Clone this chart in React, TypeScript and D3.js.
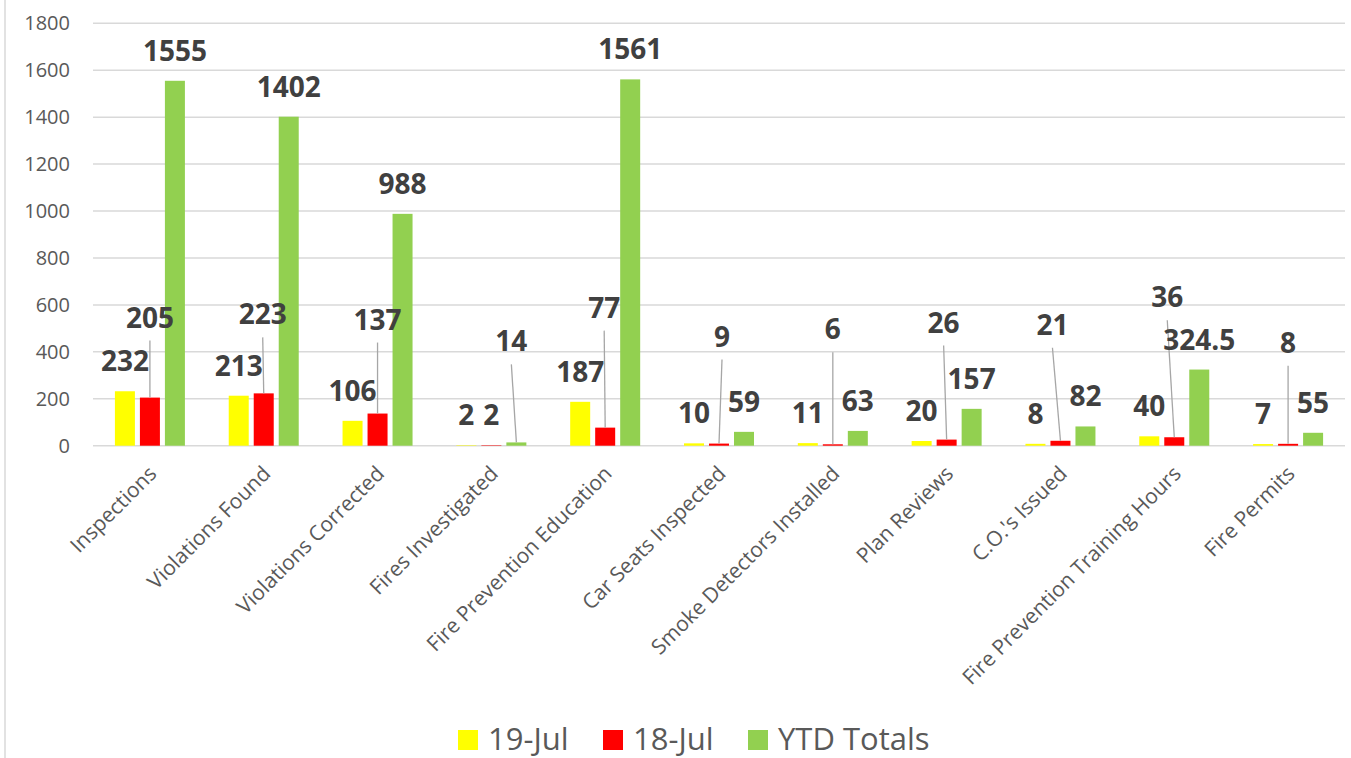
import React, { useEffect, useRef } from 'react';
import * as d3 from 'd3';

const categories = [
  'Inspections',
  'Violations Found',
  'Violations Corrected',
  'Fires Investigated',
  'Fire Prevention Education',
  'Car Seats Inspected',
  'Smoke Detectors Installed',
  'Plan Reviews',
  "C.O.'s Issued",
  'Fire Prevention Training Hours',
  'Fire Permits',
];

const jul19 = [232, 213, 106, 2, 187, 10, 11, 20, 8, 40, 7];
const jul18 = [205, 223, 137, 2, 77, 9, 6, 26, 21, 36, 8];
const ytdTotals = [1555, 1402, 988, 14, 1561, 59, 63, 157, 82, 324.5, 55];

const seriesNames = ['19-Jul', '18-Jul', 'YTD Totals'];
const seriesColors = ['#ffff00', '#ff0000', '#92d050'];

// labels that were dragged away from the bar (series:category -> [dx, dy])
const movedLabels: Record<string, [number, number]> = {
  '1:0': [0, -50],
  '1:1': [-1, -49],
  '1:2': [0, -64],
  '2:3': [-5, -71],
  '1:4': [-1, -90],
  '1:5': [3, -77],
  '1:6': [0, -85],
  '1:7': [-3, -87],
  '1:8': [-8, -86],
  '1:9': [-7, -110],
  '1:10': [0, -71],
};

const W = 1351;
const H = 758;

const App: React.FC = () => {
  const svgRef = useRef<SVGSVGElement>(null);

  useEffect(() => {
    if (!svgRef.current) return;
    const svg = d3.select(svgRef.current);
    svg.selectAll('*').remove();

    const series = [jul19, jul18, ytdTotals];
    const left = 93;
    const right = 1345;

    const x0 = d3.scaleBand<string>().domain(categories).range([left, right]).padding(0);
    const x1 = d3.scaleBand<number>().domain([0, 1, 2]).range([-37.5, 37.5])
      .paddingInner(0.2).paddingOuter(0.1);
    const y = d3.scaleLinear().domain([0, 1800]).range([445.7, 23.3]);

    // chart border on the left
    svg.append('line')
      .attr('x1', 5).attr('x2', 5).attr('y1', 0).attr('y2', H)
      .attr('stroke', '#d9d9d9').attr('stroke-width', 1.5);

    // gridlines + y ticks
    const ticks = y.ticks(9);
    svg.append('g').selectAll('line').data(ticks).join('line')
      .attr('x1', left).attr('x2', right)
      .attr('y1', d => y(d)).attr('y2', d => y(d))
      .attr('stroke', '#d9d9d9').attr('stroke-width', 1.5);

    svg.append('g').selectAll('text').data(ticks).join('text')
      .attr('x', 70).attr('y', d => y(d))
      .attr('dy', '0.35em')
      .attr('text-anchor', 'end')
      .attr('font-family', '"Open Sans", sans-serif')
      .attr('font-size', 20)
      .attr('fill', '#595959')
      .text(d => d);

    // bars
    const cells = categories.flatMap((c, i) =>
      series.map((s, si) => ({ c, i, si, v: s[i] })));

    svg.append('g').selectAll('rect').data(cells).join('rect')
      .attr('x', d => x0(d.c)! + x0.bandwidth() / 2 + x1(d.si)!)
      .attr('width', x1.bandwidth())
      .attr('y', d => y(d.v))
      .attr('height', d => y(0) - y(d.v))
      .attr('fill', d => seriesColors[d.si]);

    const barCx = (d: typeof cells[number]) => x0(d.c)! + x0.bandwidth() / 2 + x1(d.si)! + x1.bandwidth() / 2;

    // leader lines
    const moved = cells.filter(d => movedLabels[`${d.si}:${d.i}`]);
    svg.append('g').selectAll('line').data(moved).join('line')
      .attr('x1', d => barCx(d) + movedLabels[`${d.si}:${d.i}`][0])
      .attr('y1', d => y(d.v) - 20 + movedLabels[`${d.si}:${d.i}`][1] + 13)
      .attr('x2', d => barCx(d))
      .attr('y2', d => y(d.v))
      .attr('stroke', '#a6a6a6').attr('stroke-width', 1.3);

    // data labels
    svg.append('g').selectAll('text').data(cells).join('text')
      .attr('x', d => barCx(d) + (movedLabels[`${d.si}:${d.i}`]?.[0] ?? 0))
      .attr('y', d => y(d.v) - 20 + (movedLabels[`${d.si}:${d.i}`]?.[1] ?? 0))
      .attr('text-anchor', 'middle')
      .attr('font-family', '"Open Sans", sans-serif')
      .attr('font-weight', 700)
      .attr('font-size', 28)
      .attr('fill', '#404040')
      .text(d => d.v);

    // category labels
    svg.append('g').selectAll('text').data(categories).join('text')
      .attr('transform', d => `translate(${x0(d)! + x0.bandwidth() / 2 + 8},475) rotate(-45)`)
      .attr('text-anchor', 'end')
      .attr('font-family', '"Open Sans", sans-serif')
      .attr('font-size', 21)
      .attr('fill', '#595959')
      .text(d => d);

    // legend
    const legendX = [458, 603, 748];
    const legend = svg.append('g').selectAll('g').data(seriesNames).join('g')
      .attr('transform', (_, i) => `translate(${legendX[i]},730)`);
    legend.append('rect')
      .attr('width', 20).attr('height', 20)
      .attr('fill', (_, i) => seriesColors[i]);
    legend.append('text')
      .attr('x', 30).attr('y', 20)
      .attr('font-family', '"Open Sans", sans-serif')
      .attr('font-size', 31)
      .attr('fill', '#595959')
      .text(d => d);
  }, []);

  return (
    <div style={{ position: 'absolute', left: 0, top: 0, width: W, height: H, background: '#fff' }}>
      <svg ref={svgRef} width={W} height={H} />
    </div>
  );
};

export default App;
